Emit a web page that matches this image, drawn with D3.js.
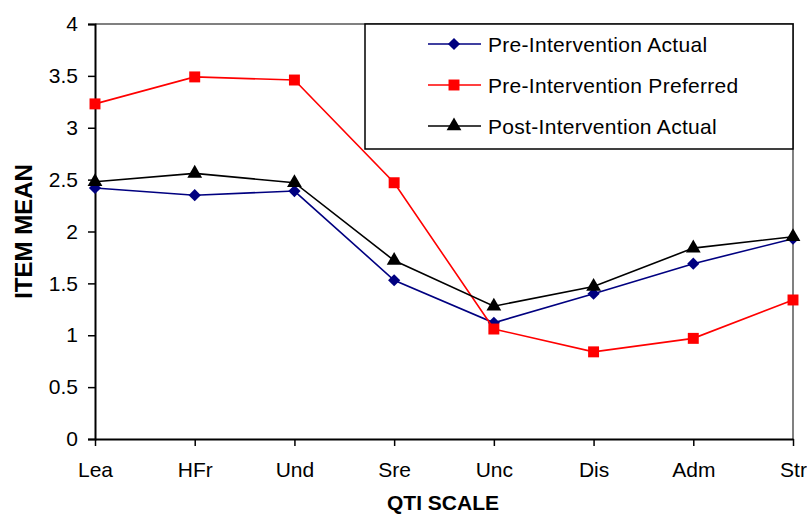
<!DOCTYPE html>
<html>
<head>
<meta charset="utf-8">
<script src="https://cdn.jsdelivr.net/npm/d3@7"></script>
<style>
  html, body { margin: 0; padding: 0; background: #fff; }
  svg { display: block; font-family: "Liberation Sans", Arial, sans-serif; }
</style>
</head>
<body>
<svg id="chart" width="807" height="514"></svg>
<script>
// QTI scale categories
const categories = ["Lea", "HFr", "Und", "Sre", "Unc", "Dis", "Adm", "Str"];

// Item means per scale
const preActual    = [2.42, 2.35, 2.39, 1.53, 1.12, 1.40, 1.69, 1.93];
const prePreferred = [3.23, 3.49, 3.46, 2.47, 1.06, 0.84, 0.97, 1.34];
const postActual   = [2.48, 2.56, 2.47, 1.72, 1.28, 1.47, 1.84, 1.95];

const yTicks = [0, 0.5, 1, 1.5, 2, 2.5, 3, 3.5, 4];

const series = [
  { name: "Pre-Intervention Actual",    values: preActual,    color: "#000080", symbol: d3.symbolDiamond2, size: 95 },
  { name: "Pre-Intervention Preferred", values: prePreferred, color: "#ff0000", symbol: d3.symbolSquare,   size: 120 },
  { name: "Post-Intervention Actual",   values: postActual,   color: "#000000", symbol: d3.symbolTriangle, size: 95 }
];

const svg = d3.select("#chart");
const margin = { left: 95, right: 14, top: 24, bottom: 75 };
const W = 807, H = 514;
const x = d3.scalePoint().domain(categories).range([margin.left, W - margin.right]);
const y = d3.scaleLinear().domain([0, 4]).range([H - margin.bottom, margin.top]);

// plot frame (top and right edges in grey)
svg.append("path")
  .attr("d", `M${margin.left},${y(4)}H${W - margin.right}V${y(0)}`)
  .attr("fill", "none").attr("stroke", "#808080").attr("stroke-width", 2);

// y axis
const yAxis = svg.append("g")
  .attr("transform", `translate(${margin.left},0)`)
  .call(d3.axisLeft(y).tickValues(yTicks).tickFormat(d3.format("")).tickSize(7).tickPadding(10));
yAxis.select(".domain").attr("stroke", "#000").attr("stroke-width", 2);
yAxis.selectAll(".tick line").attr("stroke", "#000").attr("stroke-width", 1.5);
yAxis.selectAll("text").attr("font-size", 21).attr("fill", "#000").attr("font-family", "Liberation Sans, Arial, sans-serif");

// x axis
const xAxis = svg.append("g")
  .attr("transform", `translate(0,${y(0)})`)
  .call(d3.axisBottom(x).tickSizeInner(7).tickSizeOuter(0).tickPadding(16));
xAxis.select(".domain").attr("stroke", "#000").attr("stroke-width", 2);
xAxis.selectAll(".tick line").attr("stroke", "#000").attr("stroke-width", 1.5);
xAxis.selectAll("text").attr("font-size", 21).attr("fill", "#000").attr("font-family", "Liberation Sans, Arial, sans-serif");

// axis titles
svg.append("text")
  .attr("x", 443).attr("y", 510)
  .attr("text-anchor", "middle").attr("font-weight", "bold").attr("font-size", 21)
  .text("QTI SCALE");
svg.append("text")
  .attr("transform", `translate(32,${y(2)}) rotate(-90)`)
  .attr("text-anchor", "middle").attr("font-weight", "bold").attr("font-size", 24)
  .text("ITEM MEAN");

// series lines and markers
const line = d3.line().x((d, i) => x(categories[i])).y(d => y(d));
series.forEach(s => {
  svg.append("path")
    .datum(s.values)
    .attr("d", line)
    .attr("fill", "none").attr("stroke", s.color).attr("stroke-width", 1.6);
  svg.append("g").selectAll("path")
    .data(s.values)
    .join("path")
    .attr("transform", (d, i) => `translate(${x(categories[i])},${y(d)})`)
    .attr("d", d3.symbol(s.symbol, s.size))
    .attr("fill", s.color);
});

// legend
const lg = svg.append("g");
lg.append("rect")
  .attr("x", 365).attr("y", 24).attr("width", 428).attr("height", 125)
  .attr("fill", "#fff").attr("stroke", "#000").attr("stroke-width", 1.5);
const rowY = [44, 85, 126];
series.forEach((s, i) => {
  const g = lg.append("g").attr("transform", `translate(0,${rowY[i]})`);
  g.append("line").attr("x1", 428).attr("x2", 481).attr("stroke", s.color).attr("stroke-width", 1.6);
  g.append("path").attr("transform", "translate(454,0)").attr("d", d3.symbol(s.symbol, s.size)).attr("fill", s.color);
  g.append("text").attr("x", 488).attr("dy", "0.36em").attr("font-size", 21)
    .attr("letter-spacing", 0.3).text(s.name);
});
</script>
</body>
</html>
